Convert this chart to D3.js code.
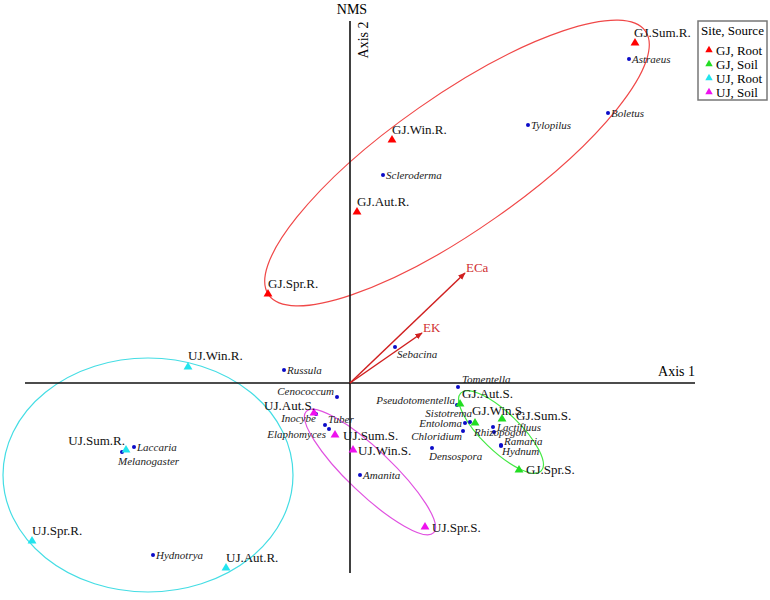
<!DOCTYPE html>
<html>
<head>
<meta charset="utf-8">
<script src="https://cdn.jsdelivr.net/npm/d3@7"></script>
<style>
  body { margin: 0; background: #fff; }
  text { font-family: "Liberation Serif", "Times New Roman", serif; }
</style>
</head>
<body>
<div id="chart"></div>
<script>
// 1: DATA (NMS scores)
// site x source samples
const siteNames = ["GJ.Sum.R.", "GJ.Win.R.", "GJ.Aut.R.", "GJ.Spr.R.",
    "GJ.Aut.S.", "GJ.Win.S.", "GJ.Sum.S.", "GJ.Spr.S.",
    "UJ.Win.R.", "UJ.Sum.R.", "UJ.Spr.R.", "UJ.Aut.R.",
    "UJ.Aut.S.", "UJ.Sum.S.", "UJ.Win.S.", "UJ.Spr.S."];
const siteGroup = ["GJ, Root", "GJ, Root", "GJ, Root", "GJ, Root",
    "GJ, Soil", "GJ, Soil", "GJ, Soil", "GJ, Soil",
    "UJ, Root", "UJ, Root", "UJ, Root", "UJ, Root",
    "UJ, Soil", "UJ, Soil", "UJ, Soil", "UJ, Soil"];
const siteAxis1 = [1.425, 0.21, 0.035, -0.41, 0.55, 0.625, 0.76, 0.845,
    -0.81, -1.12, -1.59, -0.62, -0.18, -0.075, 0.015, 0.375];
const siteAxis2 = [1.70, 1.215, 0.855, 0.445, -0.105, -0.20, -0.18, -0.435,
    0.08, -0.335, -0.79, -0.925, -0.15, -0.26, -0.335, -0.72];

// fungal genera
const generaNames = ["Astraeus", "Boletus", "Tylopilus", "Scleroderma", "Sebacina", "Russula",
    "Cenococcum", "Inocybe", "Tuber", "Elaphomyces", "Amanita", "Laccaria", "Melanogaster",
    "Hydnotrya", "Tomentella", "Pseudotomentella", "Sistotrema", "Entoloma", "Chloridium",
    "Lactifluus", "Rhizopogon", "Ramaria", "Hydnum", "Densospora"];
const generaAxis1 = [1.395, 1.29, 0.89, 0.165, 0.225, -0.33, -0.065, -0.17, -0.125, -0.105,
    0.05, -1.08, -1.14, -0.985, 0.54, 0.535, 0.60, 0.575, 0.565, 0.715, 0.72, 0.755, 0.755, 0.41];
const generaAxis2 = [1.62, 1.35, 1.29, 1.04, 0.18, 0.065, -0.07, -0.155, -0.21, -0.23,
    -0.46, -0.32, -0.345, -0.86, -0.02, -0.11, -0.195, -0.20, -0.24, -0.22, -0.245, -0.31, -0.315, -0.325];

// environmental vectors
const vectorNames = ["ECa", "EK"];
const vectorAxis1 = [0.575, 0.36];
const vectorAxis2 = [0.55, 0.25];

// group ellipses (center, radii, angle in degrees)
const ellipseGroup = ["GJ, Root", "GJ, Soil", "UJ, Root", "UJ, Soil"];
const ellipseCx = [0.535, 0.755, -1.01, 0.10];
const ellipseCy = [1.10, -0.245, -0.46, -0.445];
const ellipseRx = [1.15, 0.28, 0.725, 0.44];
const ellipseRy = [0.335, 0.095, 0.585, 0.11];
const ellipseAngle = [35, -44, 0, -43.6];

const groups = ["GJ, Root", "GJ, Soil", "UJ, Root", "UJ, Soil"];

// 2: SETUP
const W = 770, H = 600;
const svg = d3.select("#chart").append("svg")
    .attr("width", W)
    .attr("height", H);

const xScale = d3.scaleLinear().domain([-1.625, 1.725]).range([25, 695]);
const yScale = d3.scaleLinear().domain([-0.95, 1.81]).range([573, 21]);
const unit = xScale(1) - xScale(0);

const markColor = d3.scaleOrdinal().domain(groups)
    .range(["#ff0000", "#22dd22", "#22e4ee", "#ee11ee"]);
const ringColor = d3.scaleOrdinal().domain(groups)
    .range(["#f04848", "#44e844", "#44dde4", "#e050e0"]);

// label placement tweaks (anchor, dx, dy)
const siteLabelPos = {
    "GJ.Sum.R.": ["start", -1, -6], "UJ.Sum.R.": ["end", -1, -5], "UJ.Aut.S.": ["end", 1, -3],
    "GJ.Sum.S.": ["start", 14, 1], "GJ.Win.S.": ["start", -3, -8], "GJ.Aut.S.": ["start", 2, -6],
    "GJ.Spr.S.": ["start", 7, 4], "UJ.Sum.S.": ["start", 8, 5], "UJ.Win.S.": ["start", 5, 5],
    "UJ.Spr.S.": ["start", 7, 5], "UJ.Win.R.": ["start", 0, -7]
};
const genusLabelPos = {
    "Sebacina": ["start", 2, 11], "Cenococcum": ["end", -3, -2], "Inocybe": ["end", 0, 8],
    "Tuber": ["start", 3, -2], "Elaphomyces": ["end", -3, 9], "Melanogaster": ["start", -4, 13],
    "Tomentella": ["start", 4, -4], "Pseudotomentella": ["end", -2, -1], "Sistotrema": ["end", 2, -5],
    "Entoloma": ["end", -3, 4], "Chloridium": ["end", -1, 9], "Lactifluus": ["start", 4, 4],
    "Rhizopogon": ["start", -20, 4], "Ramaria": ["start", 3, 0], "Hydnum": ["start", 1, 9],
    "Densospora": ["start", -3, 12]
};

// 3: ELLIPSES
svg.append("g").selectAll("ellipse")
    .data(ellipseGroup)
    .join("ellipse")
    .attr("cx", 0).attr("cy", 0)
    .attr("rx", (d, i) => ellipseRx[i] * unit)
    .attr("ry", (d, i) => ellipseRy[i] * unit)
    .attr("transform", (d, i) => `translate(${xScale(ellipseCx[i])},${yScale(ellipseCy[i])}) rotate(${-ellipseAngle[i]})`)
    .attr("fill", "none")
    .attr("stroke", d => ringColor(d))
    .attr("stroke-width", 1.2);

// 4: AXES
svg.append("line")
    .attr("x1", xScale.range()[0]).attr("x2", xScale.range()[1])
    .attr("y1", yScale(0)).attr("y2", yScale(0))
    .attr("stroke", "#111").attr("stroke-width", 1.6);
svg.append("line")
    .attr("x1", xScale(0)).attr("x2", xScale(0))
    .attr("y1", yScale.range()[0]).attr("y2", yScale.range()[1])
    .attr("stroke", "#111").attr("stroke-width", 1.6);

svg.append("text")
    .attr("x", xScale.range()[1]).attr("y", yScale(0) - 7)
    .attr("text-anchor", "end")
    .attr("font-size", "14px")
    .text("Axis 1");
svg.append("text")
    .attr("transform", `translate(${xScale(0) + 18},${yScale.range()[1] + 19}) rotate(-90)`)
    .attr("text-anchor", "middle")
    .attr("font-size", "14px")
    .text("Axis 2");
svg.append("text")
    .attr("x", xScale(0) + 2).attr("y", 14)
    .attr("text-anchor", "middle")
    .attr("font-size", "14px")
    .text("NMS");

// 5: VECTORS
svg.append("defs").append("marker")
    .attr("id", "arrow")
    .attr("viewBox", "0 0 10 10")
    .attr("refX", 9).attr("refY", 5)
    .attr("markerWidth", 5).attr("markerHeight", 5)
    .attr("orient", "auto")
    .append("path")
    .attr("d", "M0,1 L10,5 L0,9 Z")
    .attr("fill", "#d02020");

vectorNames.forEach((name, i) => {
    svg.append("line")
        .attr("x1", xScale(0)).attr("y1", yScale(0))
        .attr("x2", xScale(vectorAxis1[i])).attr("y2", yScale(vectorAxis2[i]))
        .attr("stroke", "#d02020")
        .attr("stroke-width", 1.5)
        .attr("marker-end", "url(#arrow)");
    svg.append("text")
        .attr("x", xScale(vectorAxis1[i]) + 1)
        .attr("y", yScale(vectorAxis2[i]) - 1)
        .attr("font-size", "13px")
        .attr("fill", "#d03030")
        .text(name);
});

// 6: GENERA (blue dots)
generaNames.forEach((name, i) => {
    const x = xScale(generaAxis1[i]), y = yScale(generaAxis2[i]);
    svg.append("circle")
        .attr("cx", x).attr("cy", y).attr("r", 2)
        .attr("fill", "#0b0bc8");
    const p = genusLabelPos[name] || ["start", 3, 4];
    svg.append("text")
        .attr("x", x + p[1]).attr("y", y + p[2])
        .attr("text-anchor", p[0])
        .attr("font-size", "11px")
        .attr("font-style", "italic")
        .attr("fill", "#222")
        .text(name);
});

// 7: SITES (triangles)
const tri = d3.symbol().type(d3.symbolTriangle).size(34);
siteNames.forEach((name, i) => {
    const x = xScale(siteAxis1[i]), y = yScale(siteAxis2[i]);
    svg.append("path")
        .attr("d", tri)
        .attr("transform", `translate(${x},${y})`)
        .attr("fill", markColor(siteGroup[i]));
    const p = siteLabelPos[name] || ["start", 0, -6];
    svg.append("text")
        .attr("x", x + p[1]).attr("y", y + p[2])
        .attr("text-anchor", p[0])
        .attr("font-size", "13px")
        .attr("fill", "#111")
        .text(name);
});

// 8: LEGEND
const legend = svg.append("g").attr("transform", "translate(698,21)");
legend.append("rect")
    .attr("width", 69).attr("height", 79)
    .attr("fill", "#fff")
    .attr("stroke", "#777")
    .attr("stroke-width", 1.5);
legend.append("text")
    .attr("x", 34.5).attr("y", 14)
    .attr("text-anchor", "middle")
    .attr("font-size", "13px")
    .text("Site, Source");
groups.forEach((g, i) => {
    const row = legend.append("g").attr("transform", `translate(11,${29 + i * 14})`);
    row.append("path")
        .attr("d", d3.symbol().type(d3.symbolTriangle).size(24))
        .attr("fill", markColor(g));
    row.append("text")
        .attr("x", 7).attr("y", 4.5)
        .attr("font-size", "13px")
        .text(g);
});
</script>
</body>
</html>
